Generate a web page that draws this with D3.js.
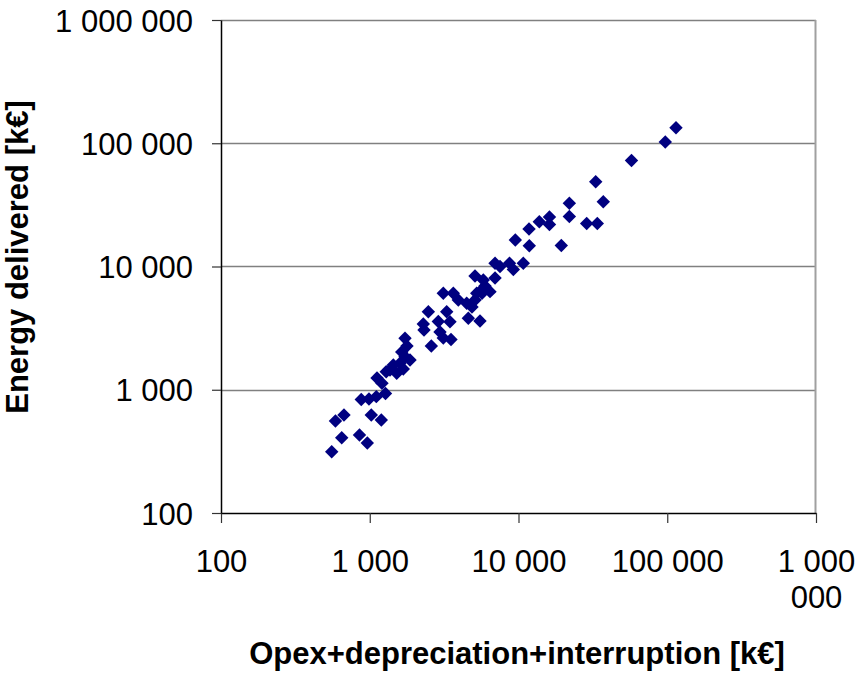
<!DOCTYPE html>
<html>
<head>
<meta charset="utf-8">
<script src="https://cdn.jsdelivr.net/npm/d3@7"></script>
<style>
  body { margin: 0; background: #fff; }
  text { font-family: "Liberation Sans", Arial, sans-serif; }
</style>
</head>
<body>
<script>
"use strict";

// opex+depreciation+interruption [k€]
const costs = [
  555, 648, 588, 671, 853, 963, 1024, 1196, 877, 988,
  1107, 1276, 1119, 1208, 1368, 1518, 1681, 1597, 1440, 1726,
  1640, 1865, 1726, 1780, 2291, 2477, 2316, 2594, 2890, 2967,
  3122, 3517, 3291, 3462, 3122, 3645, 3939, 4599, 5510, 4867,
  4485, 5101, 5236, 5800, 6432, 5101, 5800, 6955, 6955, 7510,
  8700, 9230, 10770, 9520, 11820, 11770, 13800, 16150, 16150, 19400,
  21970, 21970, 28730, 33870, 37150, 33040, 57500, 97000, 114500, 5953,
  5684, 1290
];

// energy delivered [k€]
const energy = [
  314, 408, 557, 624, 429, 370, 624, 568, 833, 841,
  879, 933, 1245, 1128, 1446, 1360, 1473, 1640, 1588, 1854,
  2025, 1743, 2614, 2265, 3414, 4297, 3053, 2265, 3580, 2943,
  2630, 2557, 4297, 3566, 6060, 6060, 5350, 3800, 3612, 4693,
  5028, 5350, 6060, 6653, 6250, 8375, 7770, 8070, 10620, 10000,
  10620, 9460, 10620, 16400, 14750, 20150, 23080, 25220, 21920, 14800,
  32580, 25460, 22330, 22330, 33560, 48750, 72440, 102300, 133700, 6950,
  6060, 1400
];

const xTicks = [100, 1000, 10000, 100000, 1000000];
const yTicks = [100, 1000, 10000, 100000, 1000000];
const xTickLabels = ["100", "1 000", "10 000", "100 000", "1 000 000"];
const yTickLabels = ["100", "1 000", "10 000", "100 000", "1 000 000"];

let svg = d3
  .select("body")
  .append("svg")
  .attr("width", 856)
  .attr("height", 673);

const plotLeft = 221, plotRight = 816, plotTop = 20, plotBottom = 513;

const x = d3.scaleLog().domain([100, 1000000]).range([plotLeft, plotRight]);
const y = d3.scaleLog().domain([100, 1000000]).range([plotBottom, plotTop]);

// grid and frame
svg
  .append("g")
  .selectAll("line")
  .data(yTicks.slice(1))
  .enter()
  .append("line")
  .attr("x1", plotLeft)
  .attr("x2", plotRight)
  .attr("y1", d => Math.round(y(d)) + 0.5)
  .attr("y2", d => Math.round(y(d)) + 0.5)
  .attr("stroke", "#808080")
  .attr("stroke-width", 1.5);

svg
  .append("line")
  .attr("x1", plotRight - 0.5)
  .attr("x2", plotRight - 0.5)
  .attr("y1", plotTop)
  .attr("y2", plotBottom)
  .attr("stroke", "#a0a0a0")
  .attr("stroke-width", 2);

// axes
let xAxis = svg
  .append("g")
  .attr("transform", `translate(0,${plotBottom})`)
  .call(
    d3
      .axisBottom(x)
      .tickValues(xTicks)
      .tickSize(10)
      .tickSizeOuter(0)
      .tickFormat((d, i) => xTickLabels[i])
  );

let yAxis = svg
  .append("g")
  .attr("transform", `translate(${plotLeft},0)`)
  .call(
    d3
      .axisLeft(y)
      .tickValues(yTicks)
      .tickSize(9)
      .tickSizeOuter(0)
      .tickFormat((d, i) => yTickLabels[i])
  );

[xAxis, yAxis].forEach(a => {
  a.select(".domain").attr("stroke", "#000").attr("stroke-width", 1.5);
  a.selectAll(".tick line").attr("stroke", "#333").attr("stroke-width", 1.2);
  a.selectAll("text")
    .attr("fill", "#000")
    .style("font-size", "31px")
    .style("font-family", "'Liberation Sans', Arial, sans-serif");
});

yAxis.selectAll("text").attr("x", -28).attr("dy", "0.36em");

// wrap long x labels like the original
xAxis.selectAll(".tick text").each(function() {
  let t = d3.select(this);
  let words = t.text().split(" ");
  let lines = [];
  let line = [];
  words.forEach(w => {
    line.push(w);
    t.text(line.join(" "));
    if (this.getComputedTextLength() > 125 && line.length > 1) {
      line.pop();
      lines.push(line.join(" "));
      line = [w];
    }
  });
  lines.push(line.join(" "));
  t.text(null).attr("y", 0).attr("dy", null);
  lines.forEach((l, i) => {
    t.append("tspan")
      .attr("x", 0)
      .attr("y", 59 + i * 36)
      .text(l);
  });
});

// points
const points = costs.map((c, i) => ({ cost: c, energy: energy[i] }));

svg
  .append("g")
  .selectAll("path")
  .data(points)
  .enter()
  .append("path")
  .attr("d", d3.symbol().type(d3.symbolSquare).size(90))
  .attr("transform", d => `translate(${x(d.cost)},${y(d.energy)}) rotate(45)`)
  .attr("fill", "#000080");

// titles
svg
  .append("text")
  .attr("x", 517)
  .attr("y", 664)
  .attr("text-anchor", "middle")
  .style("font-size", "31px")
  .style("font-weight", "bold")
  .text("Opex+depreciation+interruption [k€]");

svg
  .append("text")
  .attr("transform", "translate(28,257) rotate(-90)")
  .attr("text-anchor", "middle")
  .style("font-size", "31px")
  .style("font-weight", "bold")
  .text("Energy delivered [k€]");
</script>
</body>
</html>
